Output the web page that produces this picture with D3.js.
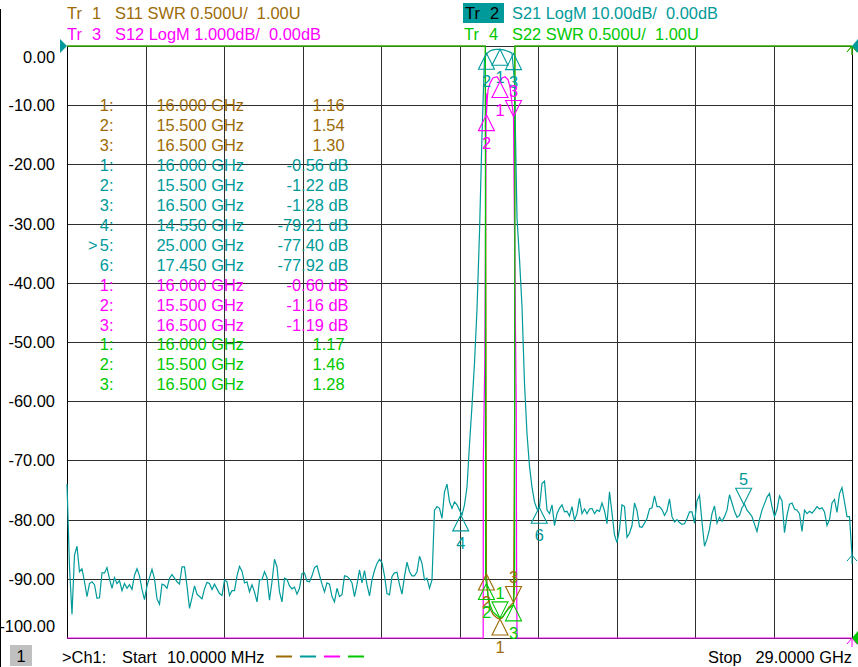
<!DOCTYPE html>
<html>
<head>
<meta charset="utf-8">
<script src="https://cdn.jsdelivr.net/npm/d3@7"></script>
<style>
  html, body { margin: 0; padding: 0; background: #fff; }
  svg { display: block; font-family: "Liberation Sans", Arial, sans-serif; }
  text { white-space: pre; }
</style>
</head>
<body>
<svg id="chart" width="858" height="667"></svg>
<script>
//sweep settings and axis labels
const startGHz = 0.01
const stopGHz = 29
const yTicks = [0, -10, -20, -30, -40, -50, -60, -70, -80, -90, -100]

//S21 LogM (dB), one value per sweep point, start to stop
const s21Db = [
  -74, -88, -96, -86, -84.5, -88.8, -88.3, -90.5, -93, -90.8,
  -90.5, -91, -93.3, -93.2, -89, -89, -88.1, -90, -91.6, -89.8,
  -90.8, -90.3, -92, -90.8, -91.6, -91, -91.8, -89.4, -88.3, -89.5,
  -91.8, -93.5, -91.2, -89.8, -88.4, -90, -93.4, -94.3, -90.9, -91.1,
  -91.6, -89.9, -89.3, -89.9, -90.5, -90.9, -88, -88, -91.2, -95,
  -93.2, -91.2, -92.6, -93, -93.4, -91.7, -90.6, -90.8, -91.8, -90.9,
  -91.7, -92.5, -92.8, -90.2, -90.5, -92.8, -92, -92, -89.5, -87.9,
  -88.7, -90.7, -90.5, -92.2, -91, -92.2, -93.9, -90.2, -90.1, -88.8,
  -89.8, -93.6, -90.5, -86.7, -88, -92.2, -93.9, -89.9, -90.1, -91.2,
  -91.7, -91.4, -92.6, -91.6, -89.1, -89, -90.4, -90.5, -89.5, -88.1,
  -87.8, -89.4, -90.9, -92.2, -90.7, -90.9, -93, -93.9, -91.6, -93,
  -92.7, -89.5, -89.6, -90, -90.7, -93, -91, -88.5, -90.7, -88.6,
  -91, -92.9, -90.2, -88.6, -87.4, -86.7, -87.3, -89.5, -92.5, -92.7,
  -89.6, -89, -88.9, -91, -92.6, -89.6, -87.2, -88.8, -89.5, -89.5,
  -88.8, -86.2, -87.4, -90.2, -89.9, -91.6, -90.2, -78.4, -77.8, -78.1,
  -79.8, -75.3, -74, -77, -78.1, -77, -77.5, -78.4, -79.2, -77.5,
  -74.5, -67.3, -60.7, -53.5, -44.5, -31.5, -15, -2, -1.25, -0.9,
  -0.7, -0.6, -0.55, -0.56, -0.6, -0.7, -0.85, -1.0, -1.2, -6,
  -29, -36, -44, -57, -65.5, -71, -74.5, -77, -78.2, -77.9,
  -73.9, -73.5, -78.4, -79, -77.5, -81, -79, -78.1, -77.5, -78.7,
  -78.6, -79.4, -77.8, -80.1, -79, -76.4, -79, -78.2, -79, -78.2,
  -78.1, -79, -78.4, -78.6, -77.2, -78.5, -80.7, -75.3, -78.9, -82.6,
  -83.9, -81.6, -77.5, -77.8, -83, -82.3, -81, -77.2, -78.5, -81.2,
  -81.3, -80.6, -79.8, -78.2, -78, -76, -77.8, -77.8, -78.3, -79.3,
  -78.5, -76.5, -79.5, -80.4, -80, -80.5, -80.8, -80.7, -79.8, -78.7,
  -78.7, -80.6, -76.8, -75.9, -80.4, -84.5, -83.3, -81.6, -79, -77.7,
  -80.6, -79.6, -80.3, -79.5, -78.4, -75.8, -77.2, -78.6, -79.6, -79.3,
  -78, -77.4, -78.4, -78.9, -79.5, -80.8, -82, -80, -78.4, -77.3,
  -76.2, -75.6, -77.8, -79.5, -78.3, -76, -76.8, -82.2, -79.3, -77.4,
  -77.2, -78.2, -78.4, -79, -82, -78.4, -79, -78.6, -78.9, -78.4,
  -77.8, -78.2, -78, -78.7, -81, -80, -77.2, -76.6, -78.8, -75.6,
  -74.6, -77, -79.5, -79.5, -86
]

//S11 SWR, out of band it is far off the top of the scale
const s11Freq = [0.01, 8, 15.3, 15.46, 15.48, 15.5, 15.56, 15.63, 15.74, 15.89, 16.0, 16.08, 16.22, 16.33, 16.5, 16.54, 16.55, 22, 29]
const s11Swr = [30, 30, 30, 30, 3.9, 1.54, 1.34, 1.25, 1.2, 1.17, 1.16, 1.17, 1.22, 1.26, 1.30, 2.9, 30, 30, 30]

//S12 LogM (dB), out of band it is below the bottom of the 1 dB/div scale
const s12Freq = [0.01, 6, 12, 13.5, 14.6, 15.2, 15.38, 15.385, 15.44, 15.47, 15.49, 15.5, 15.53, 15.56, 15.63, 15.74, 15.89, 16.0, 16.08, 16.19, 16.3, 16.37, 16.5, 16.52, 16.6, 16.615, 16.63, 17.5, 23, 29]
const s12Db = [-90, -91, -90, -79, -79, -45, -12, -7, -5.3, -2.8, -0.8, -1.16, -0.9, -0.74, -0.63, -0.54, -0.52, -0.60, -0.54, -0.52, -0.57, -0.69, -1.19, -2.3, -6.1, -9, -20, -78, -79, -85]

//S22 SWR
const s22Freq = [0.01, 8, 15.3, 15.46, 15.47, 15.5, 15.56, 15.63, 15.74, 15.89, 16.0, 16.11, 16.22, 16.33, 16.5, 16.54, 16.55, 22, 29]
const s22Swr = [30, 30, 30, 30, 1.5, 1.46, 1.36, 1.28, 1.22, 1.19, 1.17, 1.18, 1.22, 1.25, 1.28, 1.45, 30, 30, 30]

//markers of each trace
const tr1MarkerFreq = [16.0, 15.5, 16.5]
const tr1MarkerVal = [1.16, 1.54, 1.30]
const tr2MarkerFreq = [16.0, 15.5, 16.5, 14.55, 25.0, 17.45]
const tr2MarkerVal = [-0.56, -1.22, -1.28, -79.21, -77.40, -77.92]
const tr3MarkerFreq = [16.0, 15.5, 16.5]
const tr3MarkerVal = [-0.60, -1.16, -1.19]
const tr4MarkerFreq = [16.0, 15.5, 16.5]
const tr4MarkerVal = [1.17, 1.46, 1.28]

//which way each marker triangle points
const tr1MarkerDir = ['up', 'up', 'down']
const tr2MarkerDir = ['up', 'up', 'up', 'up', 'down', 'up']
const tr3MarkerDir = ['up', 'up', 'down']
const tr4MarkerDir = ['down', 'up', 'up']

//set up svg container
const svg = d3.select('#chart')
const plotLeft = 67, plotRight = 852, plotTop = 46, plotBottom = 638
const font = '"Liberation Sans", Arial, sans-serif'
const fs = 16.4

const brown = '#9c6b06'
const teal = '#009a9a'
const magenta = '#ff00ff'
const green = '#00c800'
const gridColor = '#2e2e2e'

//setting the scales
const x = d3.scaleLinear().domain([startGHz, stopGHz]).range([plotLeft, plotRight])
const yS21 = d3.scaleLinear().domain([-100, 0]).range([plotBottom, plotTop]).clamp(true)
const yS12 = d3.scaleLinear().domain([-10, 0]).range([plotBottom, plotTop]).clamp(true)
const ySwr = d3.scaleLinear().domain([1, 6]).range([plotBottom, plotTop]).clamp(true)

const s21Freq = s21Db.map((v, i) => startGHz + i * (stopGHz - startGHz) / (s21Db.length - 1))

//window edge line
svg.append('line')
   .attr('x1', 0.5).attr('x2', 0.5).attr('y1', 9).attr('y2', 667)
   .attr('stroke', '#000')

//grid
const grid = svg.append('g').attr('shape-rendering', 'crispEdges')
grid.selectAll('.hgrid')
    .data(yTicks)
    .join('line')
    .attr('x1', plotLeft).attr('x2', plotRight)
    .attr('y1', d => Math.round(yS21(d)) + 0.5)
    .attr('y2', d => Math.round(yS21(d)) + 0.5)
    .attr('stroke', gridColor)

const xDivs = d3.range(11).map(k => startGHz + k * (stopGHz - startGHz) / 10)
grid.selectAll('.vgrid')
    .data(xDivs)
    .join('line')
    .attr('x1', d => Math.round(x(d)) + 0.5)
    .attr('x2', d => Math.round(x(d)) + 0.5)
    .attr('y1', plotTop).attr('y2', plotBottom)
    .attr('stroke', (d, i) => (i === 0 || i === 10) ? '#000' : gridColor)
    .attr('stroke-width', (d, i) => (i === 0 || i === 10) ? 1.5 : 1)

//y axis labels
const yAxis = d3.axisLeft(yS21)
                .tickValues(yTicks)
                .tickSize(0)
                .tickPadding(0)
                .tickFormat(d => d.toFixed(2))

const gy = svg.append('g')
              .attr('transform', 'translate(55,0)')
              .call(yAxis)
gy.select('.domain').remove()
gy.attr('font-size', fs).attr('font-family', font)
gy.selectAll('text')
  .attr('fill', '#000')
  .attr('dy', d => d === 0 ? '0.98em' : d === -100 ? '-0.42em' : '0.34em')

//traces
const traces = [
  { freqs: s11Freq, vals: s11Swr, scale: ySwr, color: brown,
    mf: tr1MarkerFreq, mv: tr1MarkerVal, md: tr1MarkerDir, unit: '' },
  { freqs: s21Freq, vals: s21Db, scale: yS21, color: teal,
    mf: tr2MarkerFreq, mv: tr2MarkerVal, md: tr2MarkerDir, unit: ' dB', active: 4 },
  { freqs: s12Freq, vals: s12Db, scale: yS12, color: magenta,
    mf: tr3MarkerFreq, mv: tr3MarkerVal, md: tr3MarkerDir, unit: ' dB' },
  { freqs: s22Freq, vals: s22Swr, scale: ySwr, color: green,
    mf: tr4MarkerFreq, mv: tr4MarkerVal, md: tr4MarkerDir, unit: '' }
]

traces.forEach(t => {
  const line = d3.line()
                 .x(d => x(d[0]))
                 .y(d => t.scale(d[1]))
  svg.append('path')
     .datum(d3.zip(t.freqs, t.vals))
     .attr('d', line)
     .attr('fill', 'none')
     .attr('stroke', t.color)
     .attr('stroke-width', 1.2)
})

//end of trace arrows on the right edge
traces.forEach(t => {
  const ye = t.scale(t.vals[t.vals.length - 1])
  svg.append('path')
     .attr('d', `M${plotRight - 5},${ye + 6}L${plotRight},${ye}L${plotRight + 5},${ye + 6}M${plotRight},${ye}L${plotRight},${ye + 9}`)
     .attr('fill', 'none')
     .attr('stroke', t.color)
     .attr('stroke-width', 1)
})

//reference position triangles
svg.append('path').attr('d', `M60,39L${plotLeft},${plotTop}L60,53Z`).attr('fill', teal)
svg.append('path').attr('d', `M858,39L${plotRight},${plotTop}L858,53Z`).attr('fill', teal)
svg.append('path').attr('d', `M858,${plotBottom - 7}L${plotRight},${plotBottom}L858,${plotBottom + 7}Z`).attr('fill', green)

//markers
traces.forEach(t => {
  t.mf.forEach((f, i) => {
    const mx = x(f)
    const my = t.scale(t.mv[i])
    const up = t.md[i] === 'up'
    const h = up ? 16 : -16
    svg.append('path')
       .attr('d', `M${mx},${my}L${mx - 8},${my + h}L${mx + 8},${my + h}Z`)
       .attr('fill', 'none')
       .attr('stroke', t.color)
       .attr('stroke-width', 1.1)
    svg.append('text')
       .attr('x', mx)
       .attr('y', up ? my + 34 : my - 19)
       .attr('text-anchor', 'middle')
       .attr('font-size', fs)
       .attr('fill', t.color)
       .text(i + 1)
  })
})

//marker table
const rows = []
traces.forEach(t => {
  t.mf.forEach((f, i) => rows.push({ t, i, f, v: t.mv[i] }))
})

const table = svg.append('g').attr('font-size', fs)
rows.forEach((r, k) => {
  const yb = 111.3 + k * 19.93
  if (r.t.active === r.i) {
    table.append('text').attr('x', 88).attr('y', yb).attr('fill', r.t.color).text('>')
  }
  table.append('text')
       .attr('x', 113.5).attr('y', yb)
       .attr('text-anchor', 'end')
       .attr('fill', r.t.color)
       .text((r.i + 1) + ':')
  table.append('text')
       .attr('x', 156.5).attr('y', yb)
       .attr('fill', r.t.color)
       .text(r.f.toFixed(3) + ' GHz')
  table.append('text')
       .attr('x', r.t.unit ? 348.5 : 344.5).attr('y', yb)
       .attr('text-anchor', 'end')
       .attr('fill', r.t.color)
       .text(r.v.toFixed(2) + r.t.unit)
})

//trace headers
const headers = [
  { x: 67, y: 18.5, n: 1, label: 'S11 SWR 0.500U/  1.00U', color: brown },
  { x: 67, y: 40, n: 3, label: 'S12 LogM 1.000dB/  0.00dB', color: magenta },
  { x: 465, y: 18.5, n: 2, label: 'S21 LogM 10.00dB/  0.00dB', color: teal, active: true },
  { x: 464, y: 40, n: 4, label: 'S22 SWR 0.500U/  1.00U', color: green }
]
const head = svg.append('g').attr('font-size', fs)
headers.forEach(h => {
  if (h.active) {
    head.append('rect').attr('x', 463).attr('y', 3).attr('width', 41).attr('height', 20).attr('fill', teal)
  }
  head.append('text').attr('x', h.x).attr('y', h.y).attr('fill', h.active ? '#000' : h.color).text('Tr')
  head.append('text').attr('x', h.x + 25).attr('y', h.y).attr('fill', h.active ? '#000' : h.color).text(h.n)
  head.append('text').attr('x', h.x < 300 ? 115 : 512).attr('y', h.y).attr('fill', h.color).text(h.label)
})

//bottom status line
const foot = svg.append('g').attr('font-size', fs)
foot.append('rect').attr('x', 10).attr('y', 645).attr('width', 22).attr('height', 21).attr('fill', '#c0c0c0')
foot.append('text').attr('x', 21).attr('y', 662).attr('text-anchor', 'middle').attr('fill', '#000').text('1')
foot.append('text').attr('x', 62).attr('y', 663).attr('fill', '#000').text('>Ch1:')
foot.append('text').attr('x', 122).attr('y', 663).attr('fill', '#000').text('Start')
foot.append('text').attr('x', 167).attr('y', 663).attr('fill', '#000').text('10.0000 MHz')
traces.forEach((t, i) => {
  foot.append('line')
      .attr('x1', 276 + i * 24).attr('x2', 292 + i * 24)
      .attr('y1', 656.5).attr('y2', 656.5)
      .attr('stroke', t.color).attr('stroke-width', 2)
})
foot.append('text').attr('x', 708).attr('y', 663).attr('fill', '#000').text('Stop')
foot.append('text').attr('x', 852).attr('y', 663).attr('text-anchor', 'end').attr('fill', '#000').text('29.0000 GHz')
</script>
</body>
</html>
